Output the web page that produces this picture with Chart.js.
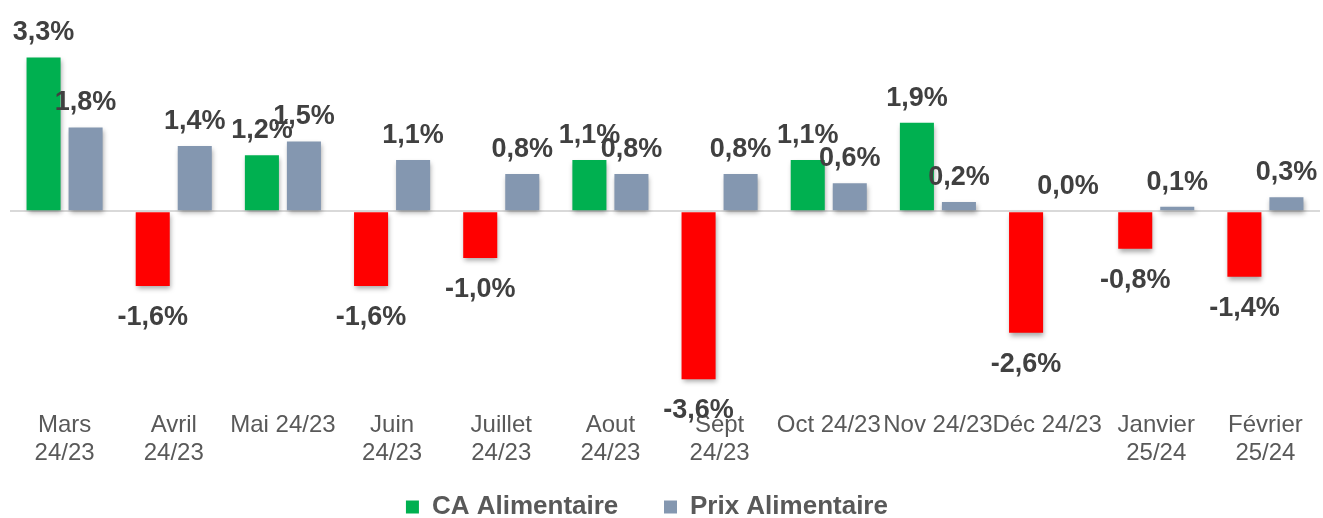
<!DOCTYPE html>
<html>
<head>
<meta charset="utf-8">
<script src="https://cdn.jsdelivr.net/npm/chart.js@4.4.1/dist/chart.umd.min.js"></script>
<style>
  body { margin: 0; background: #fff; }
  #wrap { width: 1323px; height: 518px; }
</style>
</head>
<body>
<div id="wrap"><canvas id="chart"></canvas></div>
<script>
const mois = [
  ["Mars", "24/23"], ["Avril", "24/23"], "Mai 24/23", ["Juin", "24/23"],
  ["Juillet", "24/23"], ["Aout", "24/23"], ["Sept", "24/23"], "Oct 24/23",
  "Nov 24/23", "Déc 24/23", ["Janvier", "25/24"], ["Février", "25/24"]
];
const caAlimentaire = [3.3, -1.6, 1.2, -1.6, -1.0, 1.1, -3.6, 1.1, 1.9, -2.6, -0.8, -1.4];
const prixAlimentaire = [1.8, 1.4, 1.5, 1.1, 0.8, 0.8, 0.8, 0.6, 0.2, 0.0, 0.1, 0.3];

const VERT = "#00b050";
const ROUGE = "#ff0000";
const GRIS = "#8497b0";

// ombre sous les barres
const ombre = {
  id: "ombre",
  beforeDatasetsDraw(chart) {
    const ctx = chart.ctx;
    ctx.save();
    ctx.shadowColor = "rgba(0,0,0,0.35)";
    ctx.shadowBlur = 5;
    ctx.shadowOffsetX = 1;
    ctx.shadowOffsetY = 3;
  },
  afterDatasetsDraw(chart) {
    chart.ctx.restore();
  }
};

// étiquettes de valeurs
const etiquettes = {
  id: "etiquettes",
  afterDatasetsDraw(chart) {
    const ctx = chart.ctx;
    ctx.save();
    ctx.font = "bold 27px 'Liberation Sans', Arial, sans-serif";
    ctx.fillStyle = "#404040";
    ctx.textAlign = "center";
    ctx.textBaseline = "alphabetic";
    chart.data.datasets.forEach((ds, i) => {
      chart.getDatasetMeta(i).data.forEach((bar, j) => {
        const v = ds.data[j];
        const txt = v.toFixed(1).replace(".", ",") + "%";
        if (v >= 0) {
          ctx.fillText(txt, bar.x, bar.y - 17);
        } else {
          ctx.fillText(txt, bar.x, bar.y + 39);
        }
      });
    });
    ctx.restore();
  }
};

new Chart(document.getElementById("chart"), {
  type: "bar",
  data: {
    labels: mois,
    datasets: [
      {
        label: "CA Alimentaire",
        data: caAlimentaire,
        backgroundColor: caAlimentaire.map(v => v < 0 ? ROUGE : VERT),
        categoryPercentage: 0.77,
        barPercentage: 0.81
      },
      {
        label: "Prix Alimentaire",
        data: prixAlimentaire,
        backgroundColor: GRIS,
        categoryPercentage: 0.77,
        barPercentage: 0.81
      }
    ]
  },
  options: {
    responsive: true,
    maintainAspectRatio: false,
    animation: false,
    layout: { padding: { left: 10, right: 3, top: 0, bottom: -12 } },
    scales: {
      x: {
        grid: { display: false },
        border: { display: false },
        ticks: {
          color: "#595959",
          font: { family: "'Liberation Sans', Arial, sans-serif", size: 24, lineHeight: 1.15 },
          maxRotation: 0,
          autoSkip: false,
          padding: 3
        }
      },
      y: {
        min: -4.06,
        max: 4.53,
        ticks: { display: false, stepSize: 1 },
        border: { display: false },
        grid: {
          drawTicks: false,
          lineWidth: 2,
          color: c => c.tick.value === 0 ? "#d9d9d9" : "rgba(0,0,0,0)"
        }
      }
    },
    plugins: {
      tooltip: { enabled: false },
      legend: {
        position: "bottom",
        labels: {
          color: "#595959",
          font: { family: "'Liberation Sans', Arial, sans-serif", size: 26, weight: "bold" },
          boxWidth: 13,
          boxHeight: 13,
          padding: 24,
          // espaces en fin de texte : écart entre les entrées et centrage
          generateLabels(chart) {
            return [
              { text: "CA Alimentaire   ", fillStyle: VERT, strokeStyle: VERT, lineWidth: 0, datasetIndex: 0, fontColor: "#595959" },
              { text: "Prix Alimentaire     ", fillStyle: GRIS, strokeStyle: GRIS, lineWidth: 0, datasetIndex: 1, fontColor: "#595959" }
            ];
          }
        }
      }
    }
  },
  plugins: [ombre, etiquettes]
});
</script>
</body>
</html>
